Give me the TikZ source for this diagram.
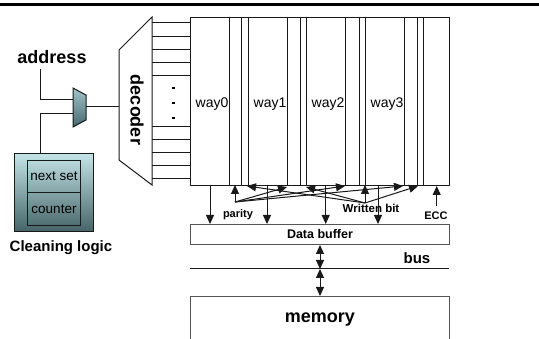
\documentclass[tikz,border=0pt]{standalone}
\usepackage{fontspec}
\setmainfont{Liberation Sans}
\usetikzlibrary{arrows.meta,shapes.geometric}
\definecolor{tealtop}{RGB}{196,228,231}
\definecolor{tealbot}{RGB}{70,100,103}
\definecolor{muxtop}{RGB}{160,196,200}
\definecolor{muxbot}{RGB}{70,105,109}
\definecolor{boxgray}{RGB}{85,85,85}
\begin{document}
\begin{tikzpicture}[x=1pt,y=-1pt,
  ln/.style={line width=1pt, draw=black!90},
  arr/.style={ln,-{Triangle[length=9pt,width=8pt]}},
  darr/.style={ln,{Triangle[length=9pt,width=8pt]}-{Triangle[length=9pt,width=8pt]}},
  bigbf/.style={font=\bfseries\fontsize{18}{20}\selectfont, inner sep=0pt},
  midbf/.style={font=\bfseries\fontsize{15}{17}\selectfont, inner sep=0pt},
  waytxt/.style={font=\fontsize{14}{16}\selectfont, inner sep=0pt},
  smallbf/.style={font=\bfseries\fontsize{11}{13}\selectfont, inner sep=0pt},
  box/.style={draw=boxgray, line width=1pt, inner sep=0pt, anchor=north west},
]
\clip (0,0) rectangle (539,339);
\fill[black] (0,3) rectangle (539,6);

% cache array
\node[draw=black!90, line width=1pt, inner sep=0pt, anchor=north west,
      minimum width=259pt, minimum height=168pt] (cache) at (190,17) {};
\foreach \x in {229,241.7,248.3,287.3,300,306,345.7,359,365,404,417.3,423.3}
  \draw[ln] (\x,0 |- cache.north) -- (\x,0 |- cache.south);
\node[waytxt] (w0) at (212,104) {way0};
\node[waytxt] (w1) at (270,104) {way1};
\node[waytxt] (w2) at (328,104) {way2};
\node[waytxt] (w3) at (387,104) {way3};

% decoder
\draw[ln] (119,50) -- (152,17) -- (152,185) -- (119,160) -- cycle;
\coordinate (decin) at (119,107);
\node[bigbf, rotate=-90] (dec) at (137,110) {decoder};
\foreach \y in {23,36.5,49.5,63,76,127,140,153,166,179}
  \draw[ln] (152,\y) -- (cache.west |- 0,\y);
\foreach \y in {88,103,118}
  \fill[black] (171.8,\y-1.4) rectangle (174.6,\y+1.4);

% address and mux
\node[bigbf] (addr) at (52,57) {address};
\coordinate (a0) at (40.7,69);
\draw[ln, top color=muxtop, bottom color=muxbot] (73,88) -- (86,95) -- (86,120) -- (73,127) -- cycle;
\coordinate (muxA) at (73,100);
\coordinate (muxB) at (73,114);
\coordinate (muxout) at (86,107);
\draw[ln] (a0) |- (muxA);
\draw[ln] (muxout) -- (decin);

% cleaning logic
\node[draw=black!90, line width=1pt, inner sep=0pt, anchor=north west,
      minimum width=79pt, minimum height=78pt, top color=tealtop, bottom color=tealbot] (clean) at (14,153) {};
\node[draw=black!90, line width=1pt, inner sep=0pt, anchor=north west,
      minimum width=53pt, minimum height=32pt, font=\fontsize{13.5}{15}\selectfont] (ns) at (27,160) {next set};
\node[draw=black!90, line width=1pt, inner sep=0pt, anchor=north west,
      minimum width=53pt, minimum height=33pt, font=\fontsize{13.5}{15}\selectfont] (ctr) at (27,192) {counter};
\draw[ln] (clean.north -| a0) |- (muxB);
\node[midbf] (cl) at (61,248) {Cleaning logic};

% data buffer, bus, memory
\node[box, minimum width=259pt, minimum height=20pt] (dbuf) at (190,224) {};
\node[font=\bfseries\fontsize{12.5}{14}\selectfont, inner sep=0pt] (dbt) at (320,234) {Data buffer};
\coordinate (busL) at (190,269);
\coordinate (busR) at (449,269);
\draw[ln] (busL) -- (busR);
\node[midbf] (bus) at (417,258) {bus};
\node[box, minimum width=259pt, minimum height=60pt] (mem) at (190,296) {};
\node[bigbf] (memt) at (320,320) {memory};
\coordinate (bx) at (320,269);
\draw[darr] (dbuf.south -| bx) -- (bx);
\draw[darr] (bx) -- (mem.north -| bx);

% read-out arrows
\foreach \x in {210,267,325.7,378}
  \draw[arr] (\x,0 |- cache.south) -- (\x,0 |- dbuf.north);

% parity fan
\coordinate (P) at (235,202);
\coordinate (p0) at (235,185);
\coordinate (p1) at (287,187);
\coordinate (p2) at (345,186);
\coordinate (p3) at (403,186);
\foreach \t in {p0,p1,p2,p3} \draw[arr] (P) -- (\t);
\node[smallbf] (part) at (238,215) {parity};

% written bit fan
\coordinate (W) at (365,203);
\coordinate (q0) at (247,186);
\coordinate (q1) at (306,187);
\coordinate (q2) at (365,185);
\coordinate (q3) at (418,186);
\foreach \t in {q0,q1,q2,q3} \draw[arr] (W) -- (\t);
\node[font=\bfseries\fontsize{11.5}{13}\selectfont, inner sep=0pt] (wbt) at (371,208) {Written bit};

% ECC
\coordinate (E) at (436.7,206);
\draw[arr] (E) -- (E |- cache.south);
\node[smallbf] (ecct) at (436,216) {ECC};
\end{tikzpicture}
\end{document}
